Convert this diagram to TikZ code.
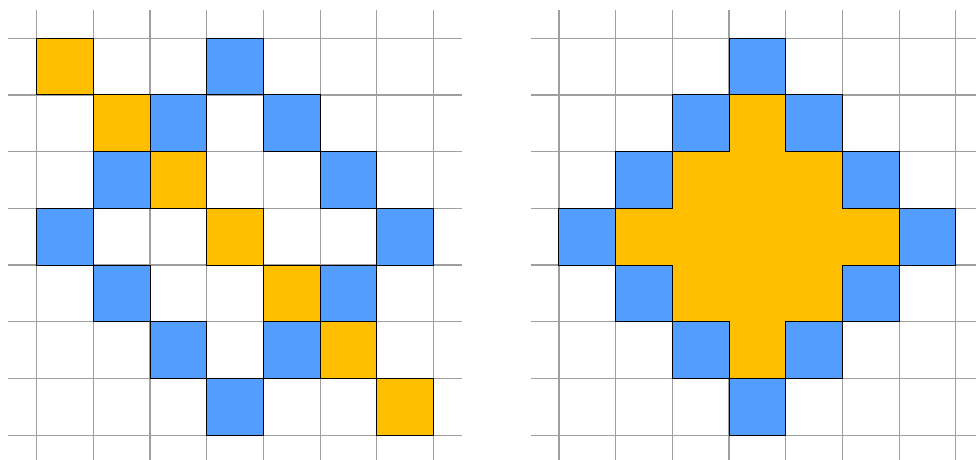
\documentclass[tikz,border=0pt]{standalone}
\usepackage{xcolor}
\usepackage{tikz}
\usetikzlibrary{positioning,calc}

\definecolor{cellorange}{RGB}{255,191,0}
\definecolor{cellblue}{RGB}{83,157,255}

\begin{document}
\begin{tikzpicture}[
  gridline/.style={gray!75, line width=0.6pt},
  orangecell/.style={fill=cellorange, draw=black, line width=0.5pt},
  orangefill/.style={fill=cellorange},
  bluecell/.style={fill=cellblue, draw=black, line width=0.5pt}
]
\useasboundingbox (-0.647,-0.437) rectangle (16.566,7.675);

% Left board
\begin{scope}
  % Grid
  \foreach \i in {0,...,7} {
    \draw[gridline] (-0.5,\i) -- (7.5,\i);
    \draw[gridline] (\i,-0.5) -- (\i,7.5);
  }
  % Diagonal cells (column/row from top)
  \foreach \c/\r in {0/0,1/1,2/2,3/3,4/4,5/5,6/6}
    \draw[orangecell] (\c,6-\r) rectangle ++(1,1);
  % Blue cells
  \foreach \c/\r in {3/0,2/1,4/1,1/2,5/2,0/3,6/3,1/4,5/4,2/5,4/5,3/6}
    \draw[bluecell] (\c,6-\r) rectangle ++(1,1);
\end{scope}

% Right board
\begin{scope}[xshift=9.21cm]
  % Grid
  \foreach \i in {0,...,7} {
    \draw[gridline] (-0.5,\i) -- (7.5,\i);
    \draw[gridline] (\i,-0.5) -- (\i,7.5);
  }
  % Diamond of orange cells
  \foreach \c/\r in {3/1,2/2,3/2,4/2,1/3,2/3,3/3,4/3,5/3,2/4,3/4,4/4,3/5}
    \fill[orangefill] (\c,6-\r) rectangle ++(1,1);
  % Blue cells
  \foreach \c/\r in {3/0,2/1,4/1,1/2,5/2,0/3,6/3,1/4,5/4,2/5,4/5,3/6}
    \draw[bluecell] (\c,6-\r) rectangle ++(1,1);
\end{scope}

\end{tikzpicture}
\end{document}
